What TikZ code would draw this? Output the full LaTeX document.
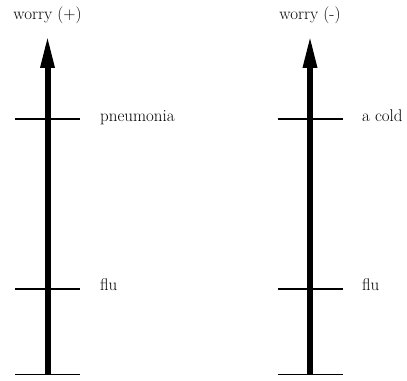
\documentclass[tikz,border=0pt]{standalone}
\usetikzlibrary{arrows.meta,calc}

\begin{document}
\begin{tikzpicture}[x=1bp,y=1bp,
  ax/.style={line width=6bp,-{Triangle[length=33bp,width=13bp]}},
  tk/.style={line width=1.4bp},
  lab/.style={font=\fontsize{17}{20}\selectfont,inner sep=0pt,anchor=base west},
  top/.style={lab,anchor=base}]
  \useasboundingbox (0,0) rectangle (407,381);
  % two scales: l = worry (+), r = worry (-)
  \foreach \s/\xx in {l/47.5,r/310} {
    \coordinate (\s0) at (\xx,6.5);
    \coordinate (\s1) at (\xx,92);
    \coordinate (\s2) at (\xx,262);
    \coordinate (\s3) at (\xx,346);
    \draw[ax] (\s0)--(\s3);
    \foreach \k in {0,1,2} {
      \coordinate (\s\k a) at ($(\s\k)+(-32.5,0)$); \coordinate (\s\k b) at ($(\s\k)+(32.5,0)$);
      \draw[tk] (\s\k a)--(\s\k b); } }
  \node[top] (wl) at ($(l3)+(0,16)$) {worry (+)};
  \node[top] (wr) at ($(r3)+(0,16)$) {worry (-)};
  \node[lab] (pn) at ($(l2)+(52.5,-2)$) {pneumonia};
  \node[lab] (fl) at ($(l1)+(52.5,-1.7)$) {flu};
  \node[lab] (co) at ($(r2)+(52,-2)$) {a cold};
  \node[lab] (fr) at ($(r1)+(52,-1.7)$) {flu};
\end{tikzpicture}
\end{document}
